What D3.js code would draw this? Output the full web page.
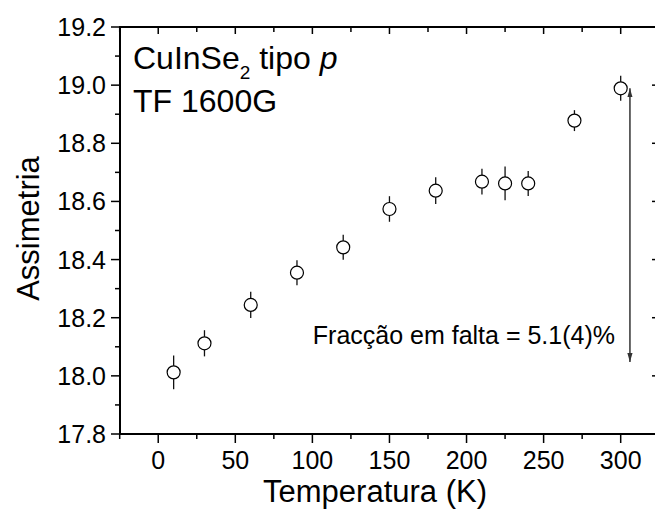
<!DOCTYPE html>
<html>
<head>
<meta charset="utf-8">
<script src="https://d3js.org/d3.v7.min.js"></script>
<style>
body{margin:0;background:#fff;}
svg{display:block;font-family:Arial,"Liberation Sans",sans-serif;}
</style>
</head>
<body>
<svg width="655" height="522"></svg>
<script>
// data
var temperatura=[10,30,60,90,120,150,180,210,225,240,270,300];
var assimetria=[18.012,18.112,18.244,18.355,18.442,18.574,18.637,18.668,18.662,18.662,18.878,18.989];
var erro=[0.058,0.045,0.045,0.043,0.043,0.044,0.046,0.044,0.058,0.043,0.036,0.043];
var xticks=[0,50,100,150,200,250,300];
var yticks=[17.8,18.0,18.2,18.4,18.6,18.8,19.0,19.2];
var seta=[18.989,18.048];   // arrow from / to (y units), at T=306
var setaT=306;

var pleft=120,pright=660,ptop=27,pbottom=434;

var svg=d3.select("svg");

var scalex=d3.scaleLinear()
	.domain([-24.8,325.5])
	.range([pleft,pright]);

var scaley=d3.scaleLinear()
	.domain([17.8,19.2])
	.range([pbottom,ptop]);

var xminor=d3.range(-25,326,25).filter(d=>d%50!==0);
var yminor=d3.range(17.9,19.2,0.2);

// ticks
function ticks(g,vals,len,fn)
{
	g.selectAll(null)
	.data(vals)
	.enter()
	.append("line")
	.attr("stroke","#000")
	.attr("stroke-width",1.5)
	.each(function(d){fn(d3.select(this),d,len)});
}

var tk=svg.append("g");
// bottom, outward
ticks(tk,xticks,9,(s,d,l)=>s.attr("x1",scalex(d)).attr("x2",scalex(d)).attr("y1",pbottom).attr("y2",pbottom+l));
ticks(tk,xminor,5,(s,d,l)=>s.attr("x1",scalex(d)).attr("x2",scalex(d)).attr("y1",pbottom).attr("y2",pbottom+l));
// top, inward
ticks(tk,xticks,7,(s,d,l)=>s.attr("x1",scalex(d)).attr("x2",scalex(d)).attr("y1",ptop).attr("y2",ptop+l));
ticks(tk,xminor,5,(s,d,l)=>s.attr("x1",scalex(d)).attr("x2",scalex(d)).attr("y1",ptop).attr("y2",ptop+l));
// left, outward
ticks(tk,yticks,9,(s,d,l)=>s.attr("y1",scaley(d)).attr("y2",scaley(d)).attr("x1",pleft).attr("x2",pleft-l));
ticks(tk,yminor,5,(s,d,l)=>s.attr("y1",scaley(d)).attr("y2",scaley(d)).attr("x1",pleft).attr("x2",pleft-l));
// right, inward
ticks(tk,yticks,8,(s,d,l)=>s.attr("y1",scaley(d)).attr("y2",scaley(d)).attr("x1",pright).attr("x2",pright-l));
ticks(tk,yminor,3,(s,d,l)=>s.attr("y1",scaley(d)).attr("y2",scaley(d)).attr("x1",pright).attr("x2",pright-l));

// frame
svg.append("rect")
	.attr("x",pleft)
	.attr("y",ptop)
	.attr("width",pright-pleft)
	.attr("height",pbottom-ptop)
	.attr("fill","none")
	.attr("stroke","#000")
	.attr("stroke-width",2);

// tick labels
svg.append("g")
	.selectAll("text")
	.data(xticks)
	.enter()
	.append("text")
	.attr("x",d=>scalex(d))
	.attr("y",pbottom+35)
	.attr("text-anchor","middle")
	.style("font-size","25px")
	.text(d=>d);

svg.append("g")
	.selectAll("text")
	.data(yticks)
	.enter()
	.append("text")
	.attr("x",pleft-14)
	.attr("y",d=>scaley(d))
	.attr("dy","0.36em")
	.attr("text-anchor","end")
	.style("font-size","25px")
	.text(d=>d.toFixed(1));

// axis titles
svg.append("text")
	.attr("x",375)
	.attr("y",502)
	.attr("text-anchor","middle")
	.style("font-size","31px")
	.text("Temperatura (K)");

svg.append("text")
	.attr("transform","translate(39,"+((ptop+pbottom)/2-2)+") rotate(-90)")
	.attr("text-anchor","middle")
	.style("font-size","31px")
	.text("Assimetria");

// error bars
svg.append("g")
	.selectAll("line")
	.data(temperatura)
	.enter()
	.append("line")
	.attr("x1",d=>scalex(d))
	.attr("x2",d=>scalex(d))
	.attr("y1",(d,i)=>scaley(assimetria[i]-erro[i]))
	.attr("y2",(d,i)=>scaley(assimetria[i]+erro[i]))
	.attr("stroke","#111")
	.attr("stroke-width",1.3);

// points
svg.append("g")
	.selectAll("circle")
	.data(temperatura)
	.enter()
	.append("circle")
	.attr("cx",d=>scalex(d))
	.attr("cy",(d,i)=>scaley(assimetria[i]))
	.attr("r",6.5)
	.attr("fill","#fff")
	.attr("stroke","#000")
	.attr("stroke-width",1.2);

// double arrow
var defs=svg.append("defs");
defs.append("marker")
	.attr("id","ponta")
	.attr("viewBox","0 0 10 10")
	.attr("refX",10)
	.attr("refY",5)
	.attr("markerWidth",6)
	.attr("markerHeight",3.5)
	.attr("orient","auto-start-reverse")
	.attr("preserveAspectRatio","none")
	.append("path")
	.attr("d","M0,0L10,5L0,10z")
	.attr("fill","#333");

svg.append("line")
	.attr("x1",scalex(setaT))
	.attr("x2",scalex(setaT))
	.attr("y1",scaley(seta[0]))
	.attr("y2",scaley(seta[1]))
	.attr("stroke","#333")
	.attr("stroke-width",1.5)
	.attr("marker-start","url(#ponta)")
	.attr("marker-end","url(#ponta)");

svg.append("text")
	.attr("x",615)
	.attr("y",344)
	.attr("text-anchor","end")
	.style("font-size","25px")
	.text("Fracção em falta = 5.1(4)%");

// sample label
var lab=svg.append("text")
	.attr("x",133)
	.attr("y",69)
	.style("font-size","32px");
lab.append("tspan").text("CuInSe");
lab.append("tspan").attr("dy",10).style("font-size","19px").text("2");
lab.append("tspan").attr("dy",-10).text(" tipo ");
lab.append("tspan").style("font-style","italic").text("p");

svg.append("text")
	.attr("x",133)
	.attr("y",112)
	.style("font-size","32px")
	.text("TF 1600G");
</script>
</body>
</html>
